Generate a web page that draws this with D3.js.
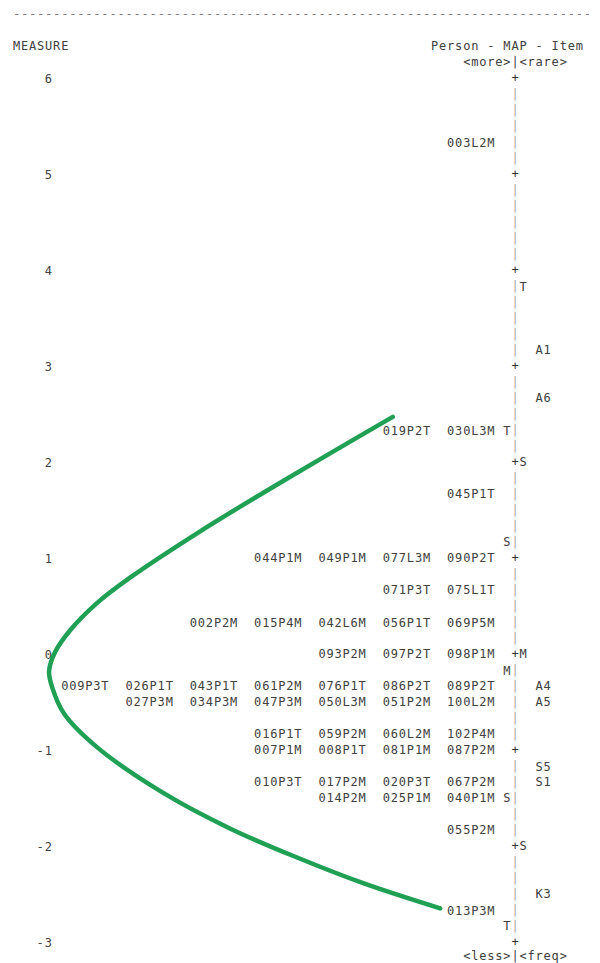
<!DOCTYPE html>
<html>
<head>
<meta charset="utf-8">
<script src="https://cdn.jsdelivr.net/npm/d3@7"></script>
<style>
  body { margin: 0; background: #fff; }
  svg { display: block; }
  text { font-family: "DejaVu Sans Mono", monospace; font-size: 12px; }
</style>
</head>
<body>
<script>
// measure scale labels
const ticks = [6, 5, 4, 3, 2, 1, 0, -1, -2, -3]

// persons, one entry per printed line
const personMeasures = [5.33, 2.33, 1.67, 1, 0.67, 0.33, 0, -0.33, -0.5, -0.83, -1, -1.33, -1.5, -1.83, -2.67]
const personNames = [
  ['003L2M'],
  ['019P2T', '030L3M'],
  ['045P1T'],
  ['044P1M', '049P1M', '077L3M', '090P2T'],
  ['071P3T', '075L1T'],
  ['002P2M', '015P4M', '042L6M', '056P1T', '069P5M'],
  ['093P2M', '097P2T', '098P1M'],
  ['009P3T', '026P1T', '043P1T', '061P2M', '076P1T', '086P2T', '089P2T'],
  ['027P3M', '034P3M', '047P3M', '050L3M', '051P2M', '100L2M'],
  ['016P1T', '059P2M', '060L2M', '102P4M'],
  ['007P1M', '008P1T', '081P1M', '087P2M'],
  ['010P3T', '017P2M', '020P3T', '067P2M'],
  ['014P2M', '025P1M', '040P1M'],
  ['055P2M'],
  ['013P3M'],
]

// items
const itemMeasures = [3.17, 2.67, -0.33, -0.5, -1.17, -1.33, -2.5]
const itemNames = ['A1', 'A6', 'A4', 'A5', 'S5', 'S1', 'K3']

// mean / S.D. markers either side of the ruler
const personStatLabels = ['T', 'S', 'M', 'S', 'T']
const personStatMeasures = [2.33, 1.17, -0.17, -1.5, -2.83]
const itemStatLabels = ['T', 'S', 'M', 'S']
const itemStatMeasures = [3.83, 2, 0, -2]

// hand drawn green curve: column position, measure
const curveCols = [47.3, 39.5, 31.2, 23.0, 14.7, 10.5, 7.2, 5.3, 4.55, 4.95, 6.4, 10.5, 18.8, 27.1, 35.4, 43.7, 53.2]
const curveMeasures = [2.47, 2.09, 1.68, 1.26, 0.8, 0.53, 0.25, 0.02, -0.18, -0.35, -0.62, -0.97, -1.45, -1.82, -2.12, -2.39, -2.65]

const width = 600
const height = 963
const cell = 8.04
const fontSize = 12
const spacing = cell - 0.602 * fontSize
const ink = '#404040'

const col = d3.scaleLinear().domain([0, 1]).range([12.5, 12.5 + cell])
const y = d3.scaleLinear().domain([6, -3]).range([78, 942])
const lineH = (y(5) - y(6)) / 6

const ruler = 62

const svg = d3.select('body').append('svg')
  .attr('width', width)
  .attr('height', height)
  .attr('viewBox', `0 0 ${width} ${height}`)

svg.append('rect').attr('width', width).attr('height', height).attr('fill', '#fff')

function put(g, str, c, yy, color) {
  return g.append('text')
    .attr('x', col(c) + spacing / 2)
    .attr('y', yy)
    .attr('dy', '0.36em')
    .attr('letter-spacing', spacing)
    .attr('fill', color || ink)
    .attr('xml:space', 'preserve')
    .text(str)
}

const head = svg.append('g')
put(head, '-'.repeat(72), 0, y(6) - 4 * lineH, '#7a7a7a')
put(head, 'MEASURE', 0, y(6) - 2 * lineH)
put(head, 'Person - MAP - Item', 52, y(6) - 2 * lineH)
put(head, '<more>|<rare>', 56, y(6) - lineH)
put(head, '<less>|<freq>', 56, y(-3) + lineH - 2)

// measure labels on the left
const axis = svg.append('g')
  .attr('transform', `translate(${col(5)},0)`)
  .call(d3.axisLeft(y).tickValues(ticks).tickSize(0).tickPadding(spacing / 2).tickFormat(d => String(d)))
  .attr('color', ink)
axis.select('.domain').remove()
axis.selectAll('text')
  .attr('dy', '0.36em')
  .attr('letter-spacing', spacing)
  .attr('dx', spacing / 2)

// the ruler: '+' at whole units, '|' between
const rulerLines = d3.range(y(6), y(-3) + 0.5, lineH)
svg.append('g')
  .selectAll('text')
  .data(rulerLines)
  .join('text')
    .attr('x', col(ruler) + cell / 2)
    .attr('y', d => d)
    .attr('dy', '0.36em')
    .attr('text-anchor', 'middle')
    .attr('fill', (d, i) => i % 6 == 0 ? '#333' : '#a2a6a2')
    .text((d, i) => i % 6 == 0 ? '+' : '|')

// persons, right aligned against the ruler
const persons = svg.append('g')
personNames.forEach((names, i) => {
  names.forEach((name, j) => {
    put(persons, name, ruler - 8 - 8 * (names.length - 1 - j), y(personMeasures[i]))
  })
})

const items = svg.append('g')
itemNames.forEach((name, i) => put(items, name, ruler + 3, y(itemMeasures[i])))

const marks = svg.append('g')
personStatLabels.forEach((s, i) => put(marks, s, ruler - 1, y(personStatMeasures[i])))
itemStatLabels.forEach((s, i) => put(marks, s, ruler + 1, y(itemStatMeasures[i])))

const line = d3.line()
  .x(d => col(d[0]))
  .y(d => y(d[1]))
  .curve(d3.curveCatmullRom.alpha(0.5))

svg.append('path')
  .datum(d3.zip(curveCols, curveMeasures))
  .attr('d', line)
  .attr('fill', 'none')
  .attr('stroke', '#1fa055')
  .attr('stroke-width', 4.5)
  .attr('stroke-linecap', 'round')
</script>
</body>
</html>
